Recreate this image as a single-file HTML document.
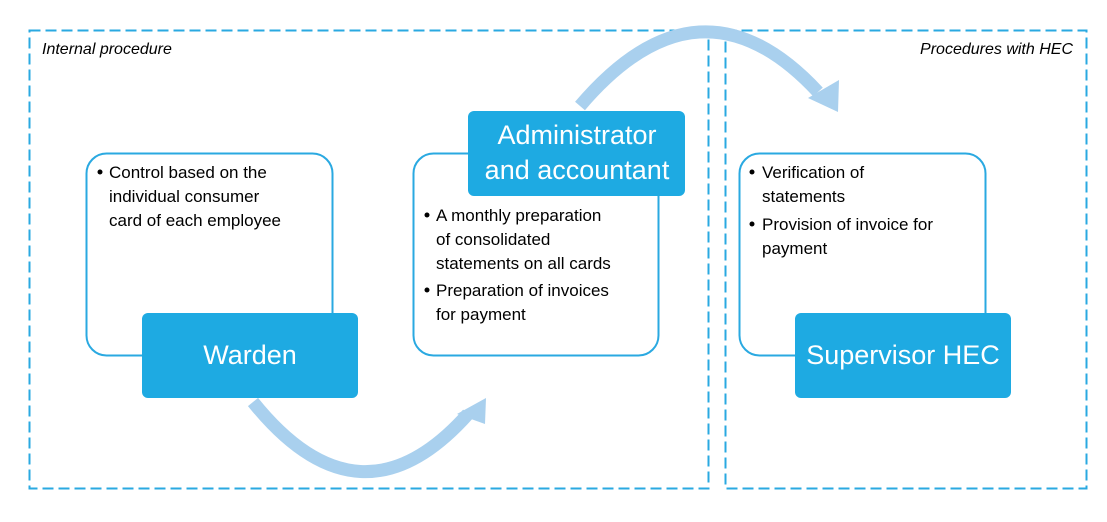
<!DOCTYPE html>
<html><head><meta charset="utf-8"><style>
html,body{margin:0;padding:0;background:#fff;}
svg{display:block;font-family:"Liberation Sans",sans-serif;}
</style></head><body>
<svg width="1107" height="522" viewBox="0 0 1107 522" xmlns="http://www.w3.org/2000/svg">
<rect x="0" y="0" width="1107" height="522" fill="#fff"/>
<rect x="29.5" y="30.5" width="679" height="458" fill="none" stroke="#2aa9e1" stroke-width="2" stroke-dasharray="11,5"/>
<rect x="725.5" y="30.5" width="361" height="458" fill="none" stroke="#2aa9e1" stroke-width="2" stroke-dasharray="11,5"/>
<text x="42" y="54" font-size="16" font-style="italic" fill="#000">Internal procedure</text>
<text x="1073" y="54" font-size="16" font-style="italic" fill="#000" text-anchor="end">Procedures with HEC</text>

<!-- arcs -->
<path d="M580,106 Q700,-35 818,92" fill="none" stroke="#a9d0ee" stroke-width="13"/>
<polygon points="808,98 839,80 838,112" fill="#a9d0ee"/>
<path d="M253,402 Q360,535 468,414" fill="none" stroke="#a9d0ee" stroke-width="13"/>
<polygon points="457,414 486,398 485,424" fill="#a9d0ee"/>

<!-- outline boxes -->
<rect x="86.5" y="153.5" width="246" height="202" rx="20" fill="#fff" stroke="#2aa9e1" stroke-width="2"/>
<rect x="413.5" y="153.5" width="245" height="202" rx="20" fill="#fff" stroke="#2aa9e1" stroke-width="2"/>
<rect x="739.5" y="153.5" width="246" height="202" rx="20" fill="#fff" stroke="#2aa9e1" stroke-width="2"/>

<!-- filled boxes -->
<rect x="142" y="313" width="216" height="85" rx="6" fill="#1eaae2"/>
<rect x="468" y="111" width="217" height="85" rx="6" fill="#1eaae2"/>
<rect x="795" y="313" width="216" height="85" rx="6" fill="#1eaae2"/>
<text x="250" y="364" font-size="27" fill="#fff" text-anchor="middle">Warden</text>
<text x="577" y="144" font-size="27" fill="#fff" text-anchor="middle">Administrator</text>
<text x="577" y="179" font-size="27" fill="#fff" text-anchor="middle">and accountant</text>
<text x="903" y="364" font-size="27" fill="#fff" text-anchor="middle">Supervisor HEC</text>

<g font-size="17" fill="#000">
<circle cx="100" cy="172" r="2.5"/>
<text x="109" y="178">Control based on the</text>
<text x="109" y="202">individual consumer</text>
<text x="109" y="226">card of each employee</text>

<circle cx="427" cy="215" r="2.5"/>
<text x="436" y="221">A monthly preparation</text>
<text x="436" y="245">of consolidated</text>
<text x="436" y="269">statements on all cards</text>
<circle cx="427" cy="290" r="2.5"/>
<text x="436" y="296">Preparation of invoices</text>
<text x="436" y="320">for payment</text>

<circle cx="752" cy="172" r="2.5"/>
<text x="762" y="178">Verification of</text>
<text x="762" y="202">statements</text>
<circle cx="752" cy="224" r="2.5"/>
<text x="762" y="230">Provision of invoice for</text>
<text x="762" y="254">payment</text>
</g>
</svg>
</body></html>
